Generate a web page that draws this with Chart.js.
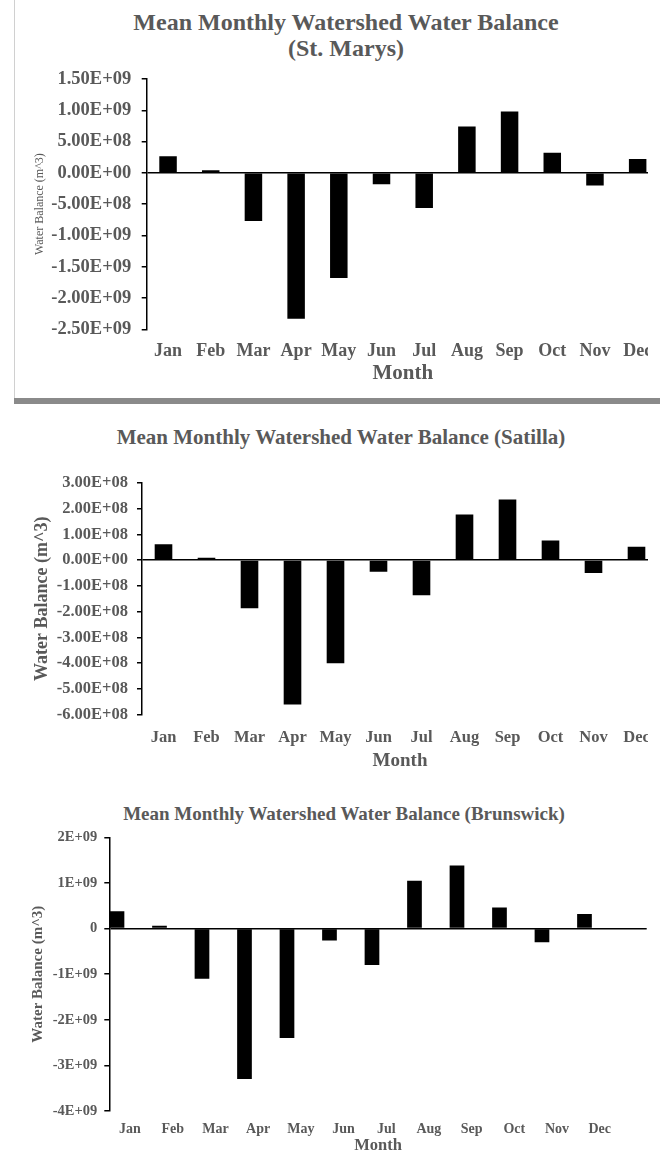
<!DOCTYPE html>
<html lang="en">
<head>
<meta charset="UTF-8">
<title>Mean Monthly Watershed Water Balance</title>
<script src="https://cdn.jsdelivr.net/npm/chart.js"></script>
<style>
    html, body {
        margin: 0;
        padding: 0;
        background: #fff;
        overflow: hidden;
    }
    body {
        position: relative;
        width: 660px;
        height: 1154px;
        font-family: 'Liberation Serif', 'Times New Roman', serif;
    }
    .clip {
        position: absolute;
        overflow: hidden;
    }
    .clip canvas {
        position: absolute;
        left: 0;
        top: 0;
    }
    .title {
        position: absolute;
        left: 0;
        text-align: center;
        font-weight: bold;
        color: #595959;
        white-space: nowrap;
    }
    .frame-left {
        position: absolute;
        left: 14px;
        top: 0;
        width: 1px;
        height: 399px;
        background: #d0d0d0;
    }
    .frame-bottom {
        position: absolute;
        left: 14px;
        top: 398px;
        width: 646px;
        height: 6px;
        background: #8a8a8a;
    }
</style>
</head>
<body>
    <div class="frame-left"></div>
    <div class="frame-bottom"></div>

    <div class="title" style="top:9px; width:692px; font-size:24px; line-height:26px;">Mean Monthly Watershed Water Balance<br>(St. Marys)</div>
    <div class="clip" style="left:14px; top:0; width:634px; height:397px;">
        <canvas id="stMarysChart" width="664" height="397"></canvas>
    </div>

    <div class="title" style="top:425px; width:682px; font-size:21px; line-height:24px;">Mean Monthly Watershed Water Balance (Satilla)</div>
    <div class="clip" style="left:0; top:405px; width:648px; height:370px;">
        <canvas id="satillaChart" width="682" height="370"></canvas>
    </div>

    <div class="title" style="top:802px; width:688px; font-size:19px; line-height:23px;">Mean Monthly Watershed Water Balance (Brunswick)</div>
    <div class="clip" style="left:0; top:775px; width:660px; height:379px;">
        <canvas id="brunswickChart" width="660" height="381"></canvas>
    </div>

<script>
    const months = ['Jan', 'Feb', 'Mar', 'Apr', 'May', 'Jun', 'Jul', 'Aug', 'Sep', 'Oct', 'Nov', 'Dec'];

    // water balance, m^3
    const stMarys = [2.65e8, 4e7, -7.7e8, -2.33e9, -1.68e9, -1.8e8, -5.6e8, 7.4e8, 9.8e8, 3.2e8, -2.0e8, 2.2e8];
    const satilla = [6.1e7, 9e6, -1.87e8, -5.6e8, -4.0e8, -4.5e7, -1.37e8, 1.77e8, 2.35e8, 7.6e7, -5.0e7, 5.2e7];
    const brunswick = [3.8e8, 6e7, -1.1e9, -3.3e9, -2.4e9, -2.6e8, -8.0e8, 1.05e9, 1.38e9, 4.6e8, -3.0e8, 3.2e8];

    // y axis ranges [min, max, step]
    const stMarysAxis = [-2.5e9, 1.5e9, 5e8];
    const satillaAxis = [-6e8, 3e8, 1e8];
    const brunswickAxis = [-4e9, 2e9, 1e9];

    Chart.defaults.font.family = "'Liberation Serif', 'Times New Roman', serif";
    Chart.defaults.color = '#595959';

    // Excel style 1.50E+09
    function sci(v, digits) {
        if (v === 0 && digits === 0) return '0';
        const parts = v.toExponential(digits).split('e');
        const exp = Math.abs(parseInt(parts[1], 10));
        return parts[0] + 'E' + (parts[1][0] === '-' ? '-' : '+') + String(exp).padStart(2, '0');
    }

    function yAxis(range, o) {
        return {
            min: range[0],
            max: range[1],
            afterFit: function(scale) { scale.width = o.width; },
            border: { display: true, color: '#000', width: 1.5 },
            grid: {
                color: function(c) { return c.tick && c.tick.value === 0 ? '#000' : 'rgba(0,0,0,0)'; },
                lineWidth: 1.5,
                tickColor: '#000',
                tickWidth: 1.5,
                tickLength: 5
            },
            ticks: {
                stepSize: range[2],
                padding: o.pad,
                font: { size: o.tickSize, weight: 'bold' },
                callback: function(v) { return sci(v, o.digits); }
            },
            title: {
                display: true,
                text: 'Water Balance (m^3)',
                padding: { top: o.titlePad, bottom: 0 },
                font: { size: o.titleSize, weight: o.titleWeight }
            }
        };
    }

    function xAxis(o) {
        return {
            afterFit: function(scale) { scale.height = o.height; },
            border: { display: false },
            grid: { display: false },
            ticks: {
                autoSkip: false,
                maxRotation: 0,
                padding: o.pad,
                font: { size: o.tickSize, weight: 'bold' }
            },
            title: {
                display: true,
                text: 'Month',
                padding: { top: 0, bottom: o.titlePad },
                font: { size: o.titleSize, weight: 'bold' }
            }
        };
    }

    const baseOptions = {
        responsive: false,
        animation: false,
        plugins: {
            legend: { display: false },
            tooltip: { enabled: false }
        }
    };

    // St. Marys
    new Chart(document.getElementById('stMarysChart'), {
        type: 'bar',
        data: {
            labels: months,
            datasets: [{ data: stMarys, backgroundColor: '#000', categoryPercentage: 1, barPercentage: 0.41 }]
        },
        options: Object.assign({}, baseOptions, {
            layout: { padding: { top: 79, right: 19, bottom: 0, left: 0 } },
            scales: {
                x: xAxis({ height: 67.7, pad: 3, tickSize: 18, titleSize: 21, titlePad: 11 }),
                y: yAxis(stMarysAxis, { width: 132.7, pad: 10.5, tickSize: 18.5, digits: 2, titleSize: 12, titleWeight: 'normal', titlePad: 19 })
            }
        })
    });

    // Satilla
    new Chart(document.getElementById('satillaChart'), {
        type: 'bar',
        data: {
            labels: months,
            datasets: [{ data: satilla, backgroundColor: '#000', categoryPercentage: 1, barPercentage: 0.41 }]
        },
        options: Object.assign({}, baseOptions, {
            layout: { padding: { top: 77.7, right: 24, bottom: 0, left: 0 } },
            scales: {
                x: xAxis({ height: 60.3, pad: 5, tickSize: 16.5, titleSize: 19, titlePad: 2.6 }),
                y: yAxis(satillaAxis, { width: 142, pad: 9, tickSize: 16.5, digits: 2, titleSize: 18, titleWeight: 'bold', titlePad: 32 })
            }
        })
    });

    // Brunswick: bars sit a little left of their month labels, so the
    // labels and the bars get their own linear axes
    const brunswickX = xAxis({ height: 45, pad: 2, tickSize: 14, titleSize: 16.5, titlePad: 0 });
    brunswickX.type = 'linear';
    brunswickX.offset = false;
    brunswickX.min = -0.485;
    brunswickX.max = 12.1;
    brunswickX.ticks.stepSize = 1;
    brunswickX.ticks.includeBounds = false;
    brunswickX.ticks.callback = function(v) { return months[v] || ''; };

    new Chart(document.getElementById('brunswickChart'), {
        type: 'bar',
        data: {
            datasets: [{
                data: months.map(function(m, i) { return { x: i, y: brunswick[i] }; }),
                xAxisID: 'xBar',
                backgroundColor: '#000',
                categoryPercentage: 1,
                barPercentage: 0.346
            }]
        },
        options: Object.assign({}, baseOptions, {
            layout: { padding: { top: 62.3, right: 13.3, bottom: 0, left: 0 } },
            scales: {
                x: brunswickX,
                xBar: { type: 'linear', display: false, offset: false, min: -0.181, max: 12.464 },
                y: yAxis(brunswickAxis, { width: 109.3, pad: 7, tickSize: 14.5, digits: 0, titleSize: 15, titleWeight: 'bold', titlePad: 29 })
            }
        })
    });
</script>
</body>
</html>
